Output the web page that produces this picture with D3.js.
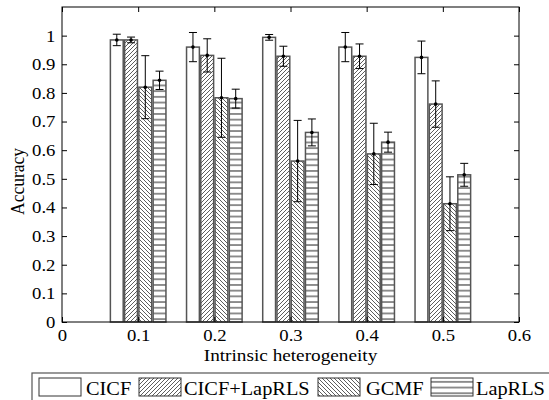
<!DOCTYPE html>
<html>
<head>
<meta charset="utf-8">
<script src="https://cdn.jsdelivr.net/npm/d3@7"></script>
<style>
  html, body { margin: 0; padding: 0; background: #fff; }
  svg { display: block; }
</style>
</head>
<body>
<svg id="chart" width="549" height="400"></svg>
<script>
const categories = [0.1, 0.2, 0.3, 0.4, 0.5];
const seriesNames = ["CICF", "CICF+LapRLS", "GCMF", "LapRLS"];
const meanCICF   = [0.985, 0.960, 0.994, 0.960, 0.924];
const meanCombo  = [0.985, 0.931, 0.928, 0.928, 0.761];
const meanGCMF   = [0.820, 0.783, 0.562, 0.587, 0.413];
const meanLapRLS = [0.844, 0.780, 0.662, 0.628, 0.514];
const errCICF    = [0.020, 0.051, 0.010, 0.051, 0.057];
const errCombo   = [0.010, 0.058, 0.035, 0.043, 0.081];
const errGCMF    = [0.110, 0.138, 0.142, 0.107, 0.094];
const errLapRLS  = [0.032, 0.033, 0.047, 0.035, 0.040];
const xTicks = [0, 0.1, 0.2, 0.3, 0.4, 0.5, 0.6];
const yTicks = [0, 0.1, 0.2, 0.3, 0.4, 0.5, 0.6, 0.7, 0.8, 0.9, 1];

const means = [meanCICF, meanCombo, meanGCMF, meanLapRLS];
const errs = [errCICF, errCombo, errGCMF, errLapRLS];

const svg = d3.select("#chart");
const L = 62, R = 519, T = 7, B = 322;
const FONT = '"Liberation Serif", "Times New Roman", Times, serif';
const SX = 1.1; // horizontal stretch of glyphs seen in the reference

const x = d3.scaleLinear().domain([0, 0.6]).range([L, R]);
const y = d3.scaleLinear().domain([0, 1.1]).range([B, T]);
const inner = d3.scaleBand().domain(seriesNames).range([-28.5, 28.5]).paddingInner(0.1).paddingOuter(0.05);

// patterns
const defs = svg.append("defs");
const fills = {};
fills["CICF"] = "#fff";
{
  const p = defs.append("pattern").attr("id", "pFwd").attr("patternUnits", "userSpaceOnUse")
    .attr("width", 4).attr("height", 4);
  p.append("rect").attr("width", 4).attr("height", 4).attr("fill", "#fff");
  p.append("path").attr("d", "M-1,1 l2,-2 M0,4 l4,-4 M3,5 l2,-2").attr("stroke", "#333").attr("stroke-width", 0.8);
  fills["CICF+LapRLS"] = "url(#pFwd)";
}
{
  const p = defs.append("pattern").attr("id", "pBack").attr("patternUnits", "userSpaceOnUse")
    .attr("width", 4).attr("height", 4);
  p.append("rect").attr("width", 4).attr("height", 4).attr("fill", "#fff");
  p.append("path").attr("d", "M-1,3 l2,2 M0,0 l4,4 M3,-1 l2,2").attr("stroke", "#333").attr("stroke-width", 0.8);
  fills["GCMF"] = "url(#pBack)";
}
{
  const p = defs.append("pattern").attr("id", "pHor").attr("patternUnits", "userSpaceOnUse")
    .attr("width", 6).attr("height", 5.7).attr("y", B);
  p.append("rect").attr("width", 6).attr("height", 5.7).attr("fill", "#fff");
  p.append("line").attr("x1", 0).attr("x2", 6).attr("y1", 2.85).attr("y2", 2.85).attr("stroke", "#222").attr("stroke-width", 1);
  fills["LapRLS"] = "url(#pHor)";
}

// bars
const data = [];
seriesNames.forEach((s, si) => {
  categories.forEach((c, ci) => {
    data.push({ s, c, v: means[si][ci], e: errs[si][ci] });
  });
});

const g = svg.append("g");
g.selectAll("rect.bar").data(data).enter().append("rect")
  .attr("class", "bar")
  .attr("x", d => x(d.c) + inner(d.s))
  .attr("width", inner.bandwidth())
  .attr("y", d => y(d.v))
  .attr("height", d => y(0) - y(d.v))
  .attr("fill", d => fills[d.s])
  .attr("stroke", "#555")
  .attr("stroke-width", 1.5);

// error bars
const eb = g.selectAll("g.err").data(data).enter().append("g").attr("class", "err");
const cx = d => x(d.c) + inner(d.s) + inner.bandwidth() / 2;
eb.append("line").attr("x1", cx).attr("x2", cx)
  .attr("y1", d => y(d.v + d.e)).attr("y2", d => y(d.v - d.e))
  .attr("stroke", "#000").attr("stroke-width", 1);
eb.append("line").attr("x1", d => cx(d) - 4).attr("x2", d => cx(d) + 4)
  .attr("y1", d => y(d.v + d.e)).attr("y2", d => y(d.v + d.e))
  .attr("stroke", "#000").attr("stroke-width", 1);
eb.append("line").attr("x1", d => cx(d) - 4).attr("x2", d => cx(d) + 4)
  .attr("y1", d => y(d.v - d.e)).attr("y2", d => y(d.v - d.e))
  .attr("stroke", "#000").attr("stroke-width", 1);
eb.append("circle").attr("cx", cx).attr("cy", d => y(d.v)).attr("r", 1.8).attr("fill", "#000");

// axes (inward ticks)
const fs = 17;
const axB = svg.append("g").attr("transform", `translate(0,${B})`)
  .call(d3.axisBottom(x).tickValues(xTicks).tickSize(-5).tickPadding(7).tickFormat(d3.format("")));
const axT = svg.append("g").attr("transform", `translate(0,${T})`)
  .call(d3.axisTop(x).tickValues(xTicks).tickSize(-5).tickFormat(""));
const axL = svg.append("g").attr("transform", `translate(${L},0)`)
  .call(d3.axisLeft(y).tickValues(yTicks).tickSize(-5).tickPadding(6).tickFormat(d3.format("")));
const axR = svg.append("g").attr("transform", `translate(${R},0)`)
  .call(d3.axisRight(y).tickValues(yTicks).tickSize(-5).tickFormat(""));
[axB, axT, axL, axR].forEach(a => {
  a.select(".domain").remove();
  a.selectAll("line").attr("stroke", "#000");
  a.selectAll("text")
    .style("font-family", FONT).style("font-size", fs + "px")
    .attr("fill", "#000")
    .attr("transform", `scale(${SX},1)`);
});
svg.append("rect").attr("x", L).attr("y", T).attr("width", R - L).attr("height", B - T)
  .attr("fill", "none").attr("stroke", "#000").attr("stroke-width", 1);

// axis titles
svg.append("text").attr("transform", `translate(${(L + R) / 2},361) scale(${SX},1)`).attr("text-anchor", "middle")
  .style("font-family", FONT).style("font-size", "17.5px").attr("fill", "#000").text("Intrinsic heterogeneity");
svg.append("text").attr("transform", `translate(24,${(T + B) / 2 + 17}) rotate(-90) scale(1,${SX})`).attr("text-anchor", "middle")
  .style("font-family", FONT).style("font-size", "17.5px").attr("fill", "#000").text("Accuracy");

// legend
const lg = svg.append("g");
lg.append("rect").attr("x", 32).attr("y", 373).attr("width", 540).attr("height", 40)
  .attr("fill", "#fff").attr("stroke", "#555").attr("stroke-width", 1.2);
const legPos = [
  { sx: 39, tx: 86 },
  { sx: 139, tx: 184 },
  { sx: 318, tx: 366 },
  { sx: 431, tx: 476 }
];
seriesNames.forEach((s, i) => {
  lg.append("rect").attr("x", legPos[i].sx).attr("y", 378).attr("width", 42).attr("height", 18)
    .attr("fill", fills[s]).attr("stroke", "#333").attr("stroke-width", 1);
  lg.append("text").attr("transform", `translate(${legPos[i].tx},395) scale(${SX},1)`)
    .style("font-family", FONT).style("font-size", "18.5px").attr("fill", "#000").text(s);
});
</script>
</body>
</html>
